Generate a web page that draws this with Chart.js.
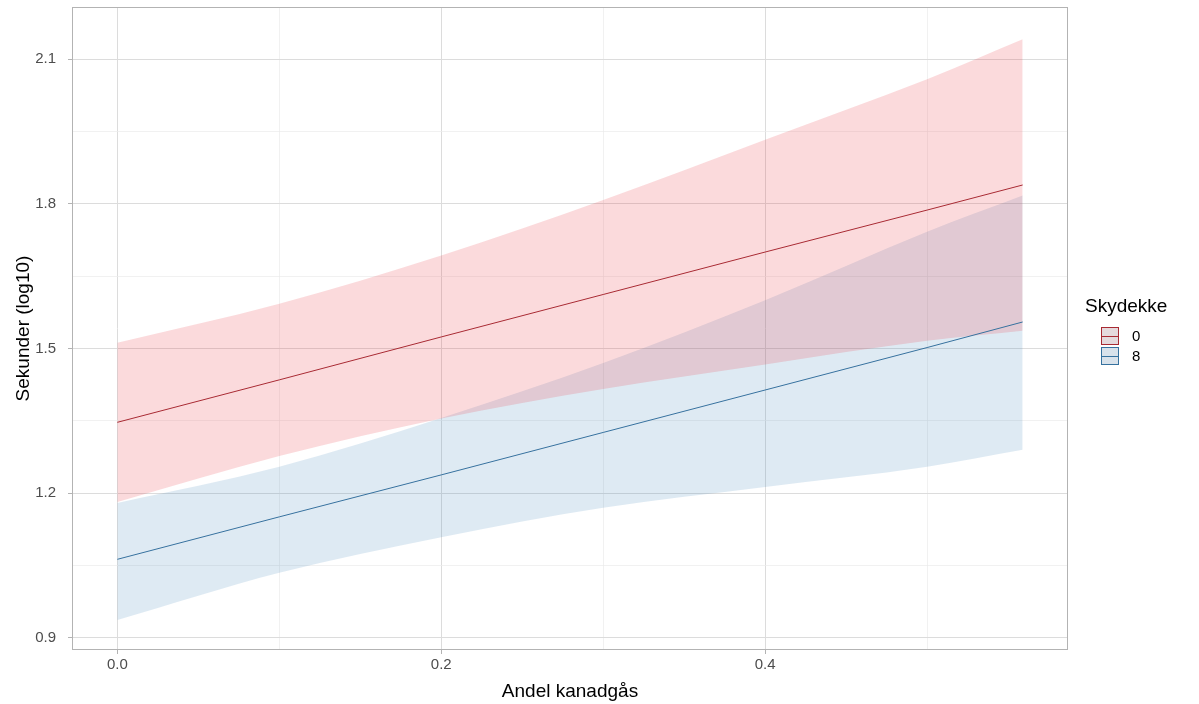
<!DOCTYPE html>
<html>
<head>
<meta charset="utf-8">
<script src="https://cdn.jsdelivr.net/npm/chart.js@4"></script>
<style>
  html, body { margin: 0; padding: 0; background: #ffffff; }
  #chart { display: block; }
</style>
</head>
<body>
<canvas id="chart" width="1199" height="704"></canvas>
<script>
// predicted values for Skydekke 0 and 8, with confidence band
var andel = [0, 0.1, 0.2, 0.3, 0.4, 0.5, 0.559];

var fit0 = [1.347, 1.435, 1.524, 1.612, 1.700, 1.787, 1.839];
var upper0 = [1.512, 1.593, 1.693, 1.808, 1.933, 2.058, 2.141];
var lower0 = [1.182, 1.277, 1.355, 1.416, 1.467, 1.516, 1.537];

var fit8 = [1.063, 1.151, 1.238, 1.326, 1.414, 1.502, 1.555];
var upper8 = [1.180, 1.255, 1.356, 1.470, 1.600, 1.742, 1.817];
var lower8 = [0.937, 1.035, 1.109, 1.170, 1.213, 1.255, 1.290];

var xTicks = [0, 0.1, 0.2, 0.3, 0.4, 0.5];
var xLabels = ['0.0', '', '0.2', '', '0.4', ''];
var yTicks = [0.9, 1.05, 1.2, 1.35, 1.5, 1.65, 1.8, 1.95, 2.1];
var yLabels = ['0.9', '', '1.2', '', '1.5', '', '1.8', '', '2.1'];

var groups = ['0', '8'];
var lineColors = ['#a82a33', '#36719e'];
var bandColors = ['rgba(236, 60, 70, 0.19)', 'rgba(60, 130, 185, 0.17)'];
var keyFills = ['#e5d9dc', '#d8e2eb'];

var FONT = '"Liberation Sans", Arial, sans-serif';

function toPoints(xs, ys) {
  var pts = [];
  for (var i = 0; i < xs.length; i++) {
    pts.push({ x: xs[i], y: ys[i] });
  }
  return pts;
}

function bandDataset(values, color, fillTarget) {
  return {
    data: toPoints(andel, values),
    borderWidth: 0,
    borderColor: 'rgba(0,0,0,0)',
    backgroundColor: color,
    pointRadius: 0,
    cubicInterpolationMode: 'monotone',
    fill: fillTarget,
    order: 2
  };
}

function lineDataset(values, color) {
  return {
    data: toPoints(andel, values),
    borderWidth: 1,
    borderColor: color,
    pointRadius: 0,
    fill: false,
    order: 1
  };
}

function gridColor(ctx) {
  return ctx.index % 2 === 0 ? '#dcdcdc' : '#ebebeb';
}

function gridWidth(ctx) {
  return ctx.index % 2 === 0 ? 1 : 0.7;
}

function tickColor(ctx) {
  return ctx.index % 2 === 0 ? '#b3b3b3' : 'rgba(0,0,0,0)';
}

function noPadding(scale) {
  scale.paddingTop = 0;
  scale.paddingBottom = 0;
  scale.paddingLeft = 0;
  scale.paddingRight = 0;
}

// titles, panel border and legend drawn by hand in ggplot style
var decorations = {
  id: 'decorations',
  afterDraw: function (chart) {
    var c = chart.ctx;
    var area = chart.chartArea;

    c.save();
    c.strokeStyle = '#b3b3b3';
    c.lineWidth = 1;
    c.strokeRect(area.left + 0.5, area.top + 0.5, area.right - area.left - 1, area.bottom - area.top - 1);

    c.fillStyle = '#000000';
    c.font = '19px ' + FONT;
    c.textAlign = 'center';
    c.textBaseline = 'alphabetic';
    c.fillText('Andel kanadgås', (area.left + area.right) / 2, 697);

    c.save();
    c.translate(29, (area.top + area.bottom) / 2);
    c.rotate(-Math.PI / 2);
    c.fillText('Sekunder (log10)', 0, 0);
    c.restore();

    c.textAlign = 'left';
    c.fillText('Skydekke', 1085, 312);

    c.font = '15px ' + FONT;
    for (var i = 0; i < groups.length; i++) {
      var top = 327 + i * 20;
      c.fillStyle = keyFills[i];
      c.fillRect(1101, top, 18, 18);
      c.strokeStyle = lineColors[i];
      c.lineWidth = 1;
      c.strokeRect(1101.5, top + 0.5, 17, 17);
      c.beginPath();
      c.moveTo(1101, top + 9.5);
      c.lineTo(1119, top + 9.5);
      c.stroke();
      c.fillStyle = '#000000';
      c.textBaseline = 'middle';
      c.fillText(groups[i], 1132, top + 10);
    }
    c.restore();
  }
};

var config = {
  type: 'line',
  data: {
    datasets: [
      bandDataset(upper0, bandColors[0], '+1'),
      bandDataset(lower0, bandColors[0], false),
      bandDataset(upper8, bandColors[1], '+1'),
      bandDataset(lower8, bandColors[1], false),
      lineDataset(fit0, lineColors[0]),
      lineDataset(fit8, lineColors[1])
    ]
  },
  options: {
    responsive: false,
    animation: false,
    devicePixelRatio: 1,
    layout: { padding: { top: 7, right: 131, left: 0, bottom: 0 } },
    plugins: {
      legend: { display: false },
      tooltip: { enabled: false }
    },
    scales: {
      x: {
        type: 'linear',
        min: -0.028,
        max: 0.587,
        afterBuildTicks: function (scale) {
          scale.ticks = xTicks.map(function (v) { return { value: v }; });
        },
        afterFit: function (scale) { scale.height = 54; noPadding(scale); },
        ticks: {
          autoSkip: false,
          maxRotation: 0,
          padding: 2,
          color: '#4d4d4d',
          font: { family: FONT, size: 15 },
          callback: function (value, index) { return xLabels[index]; }
        },
        grid: { color: gridColor, lineWidth: gridWidth, tickColor: tickColor, tickLength: 4 },
        border: { display: false }
      },
      y: {
        type: 'linear',
        min: 0.875,
        max: 2.208,
        afterBuildTicks: function (scale) {
          scale.ticks = yTicks.map(function (v) { return { value: v }; });
        },
        afterFit: function (scale) { scale.width = 72; noPadding(scale); },
        ticks: {
          autoSkip: false,
          padding: 12,
          color: '#4d4d4d',
          font: { family: FONT, size: 15 },
          callback: function (value, index) { return yLabels[index]; }
        },
        grid: { color: gridColor, lineWidth: gridWidth, tickColor: tickColor, tickLength: 4 },
        border: { display: false }
      }
    }
  },
  plugins: [decorations]
};

new Chart(document.getElementById('chart').getContext('2d'), config);
</script>
</body>
</html>
